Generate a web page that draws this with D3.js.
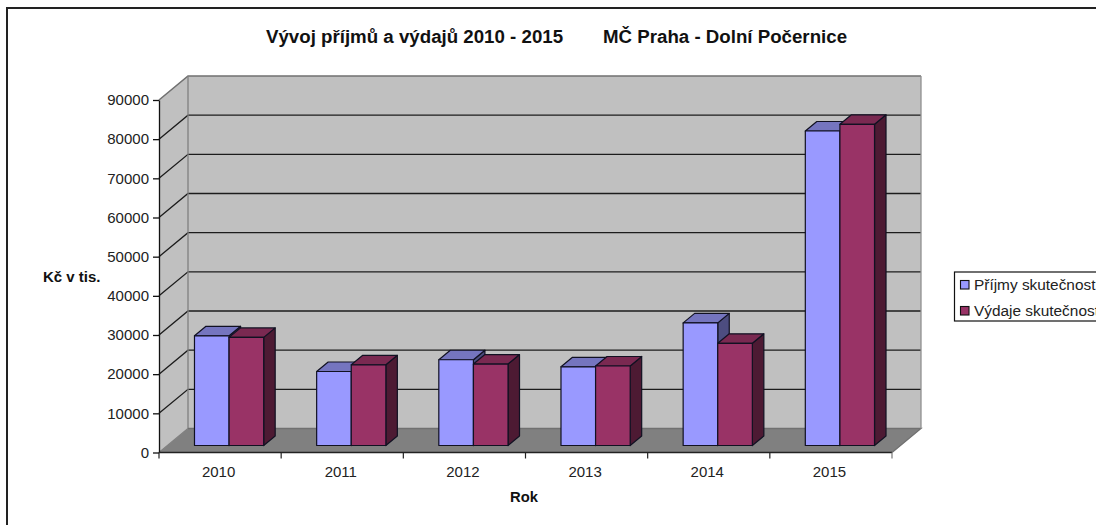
<!DOCTYPE html>
<html>
<head>
<meta charset="utf-8">
<script src="https://cdn.jsdelivr.net/npm/d3@7"></script>
<style>
html, body { margin: 0; padding: 0; background: #fff; overflow: hidden; }
svg { display: block; font-family: "Liberation Sans", Arial, sans-serif; }
</style>
</head>
<body>
<svg width="1096" height="525"></svg>
<script>
var years = ["2010", "2011", "2012", "2013", "2014", "2015"]
var prijmy = [28000, 18900, 21900, 20100, 31300, 80300]
var vydaje = [27600, 20600, 20800, 20300, 26100, 82000]
var yTicks = [0, 10000, 20000, 30000, 40000, 50000, 60000, 70000, 80000, 90000]
var seriesNames = ["Příjmy skutečnost", "Výdaje skutečnost"]
var seriesValues = [prijmy, vydaje]

var faceColors = [
    { front: "#9999ff", top: "#7575bf", side: "#4d4d80" },
    { front: "#993366", top: "#7a2951", side: "#4d1a33" }
]

var svg = d3.select("svg")
var line = "#1c1c1c"

// front edge of the 3d box
var x = d3.scaleBand().domain(years).range([159, 892])
var y = d3.scaleLinear().domain([0, 90000]).range([452.5, 100])

// how far the back wall and the bars are shifted from the front edge
var wallDx = 29, wallDy = -24
var barDx = 9, barDy = -7
var depthDx = 11.5, depthDy = -9.5
var barWidth = 34.6

function pts(list) {
    return list.map(function(p) { return p.join(",") }).join(" ")
}

// outer frame, only left and top fall inside the picture
svg.append("path")
    .attr("d", "M7,525V8H1096")
    .attr("fill", "none")
    .attr("stroke", "#222")
    .attr("stroke-width", 2)

// walls and floor
var xL = x.range()[0], xR = x.range()[1]
var yTop = y(90000), yZero = y(0)

svg.append("polygon")
    .attr("points", pts([[xL, yTop], [xL + wallDx, yTop + wallDy], [xL + wallDx, yZero + wallDy], [xL, yZero]]))
    .attr("fill", "#c0c0c0")
svg.append("polygon")
    .attr("points", pts([[xL + wallDx, yTop + wallDy], [xR + wallDx, yTop + wallDy], [xR + wallDx, yZero + wallDy], [xL + wallDx, yZero + wallDy]]))
    .attr("fill", "#c0c0c0")
svg.append("polygon")
    .attr("points", pts([[xL, yZero], [xL + wallDx, yZero + wallDy], [xR + wallDx, yZero + wallDy], [xR, yZero]]))
    .attr("fill", "#808080")

// gridlines
yTicks.slice(1).forEach(function(t) {
    var yy = y(t)
    var c = t == 90000 ? "#707070" : line
    svg.append("polyline")
        .attr("points", pts([[xL, yy], [xL + wallDx, yy + wallDy], [xR + wallDx, yy + wallDy]]))
        .attr("fill", "none")
        .attr("stroke", c)
        .attr("stroke-width", t == 90000 ? 1.6 : 1.3)
})

// wall edges
svg.append("polyline")
    .attr("points", pts([[xL + wallDx, yTop + wallDy], [xL + wallDx, yZero + wallDy], [xL, yZero]]))
    .attr("fill", "none").attr("stroke", "#808080").attr("stroke-width", 1.3)
svg.append("polyline")
    .attr("points", pts([[xL + wallDx, yZero + wallDy], [xR + wallDx, yZero + wallDy], [xR, yZero]]))
    .attr("fill", "none").attr("stroke", "#707070").attr("stroke-width", 1.3)
svg.append("line")
    .attr("x1", xR + wallDx).attr("x2", xR + wallDx)
    .attr("y1", yTop + wallDy).attr("y2", yZero + wallDy)
    .attr("stroke", "#909090").attr("stroke-width", 1.3)

// bars
var yBase = y(0) + barDy
years.forEach(function(year, i) {
    var centre = x(year) + x.bandwidth() / 2 + barDx
    seriesValues.forEach(function(values, s) {
        var x0 = centre - barWidth + s * barWidth
        var x1 = x0 + barWidth
        var yv = y(values[i]) + barDy
        var g = svg.append("g")
            .attr("stroke", "#111122")
            .attr("stroke-width", 1.2)
            .attr("stroke-linejoin", "round")
        g.append("polygon")
            .attr("points", pts([[x1, yv], [x1 + depthDx, yv + depthDy], [x1 + depthDx, yBase + depthDy], [x1, yBase]]))
            .attr("fill", faceColors[s].side)
        g.append("polygon")
            .attr("points", pts([[x0, yv], [x0 + depthDx, yv + depthDy], [x1 + depthDx, yv + depthDy], [x1, yv]]))
            .attr("fill", faceColors[s].top)
        g.append("rect")
            .attr("x", x0).attr("y", yv)
            .attr("width", barWidth).attr("height", yBase - yv)
            .attr("fill", faceColors[s].front)
    })
})

// axes
var yAxis = d3.axisLeft(y).tickValues(yTicks).tickSize(6).tickPadding(4).tickSizeOuter(0)
    .tickFormat(d3.format("d"))
var yg = svg.append("g").attr("transform", "translate(159,0)").call(yAxis)
yg.select(".domain").attr("stroke", "#111").attr("stroke-width", 1.3)
yg.selectAll(".tick line").attr("stroke", "#111").attr("stroke-width", 1.3)
yg.selectAll("text").attr("font-size", 15).attr("font-family", "Liberation Sans").attr("fill", "#222")

var xAxis = d3.axisBottom(x).tickSize(0).tickPadding(14)
var xg = svg.append("g").attr("transform", "translate(-1.5," + yZero + ")").call(xAxis)
xg.select(".domain").remove()
xg.selectAll("text").attr("font-size", 15).attr("font-family", "Liberation Sans").attr("fill", "#222")

svg.append("line")
    .attr("x1", xL).attr("x2", xR).attr("y1", yZero).attr("y2", yZero)
    .attr("stroke", "#222").attr("stroke-width", 1.3)
years.concat([null]).forEach(function(year, i) {
    var tx = xL + i * x.step()
    svg.append("line")
        .attr("x1", tx).attr("x2", tx).attr("y1", yZero).attr("y2", yZero + 6)
        .attr("stroke", i == years.length ? "#777" : "#222").attr("stroke-width", 1.2)
})

// titles
svg.append("text").attr("x", 266).attr("y", 43)
    .attr("font-size", 18.7).attr("font-weight", "bold").attr("fill", "#111")
    .text("Vývoj příjmů a výdajů 2010 - 2015")
svg.append("text").attr("x", 603).attr("y", 43)
    .attr("font-size", 18.7).attr("font-weight", "bold").attr("fill", "#111")
    .text("MČ Praha - Dolní Počernice")
svg.append("text").attr("x", 43).attr("y", 282)
    .attr("font-size", 15).attr("font-weight", "bold").attr("fill", "#111")
    .text("Kč v tis.")
svg.append("text").attr("x", 510).attr("y", 502)
    .attr("font-size", 14.8).attr("font-weight", "bold").attr("fill", "#111")
    .text("Rok")

// legend runs off the right edge like in the original
svg.append("rect")
    .attr("x", 954.5).attr("y", 272).attr("width", 160).attr("height", 49)
    .attr("fill", "#fff").attr("stroke", "#111").attr("stroke-width", 1.2)
seriesNames.forEach(function(name, s) {
    var ly = 285 + s * 26
    svg.append("rect")
        .attr("x", 960.5).attr("y", ly - 4.5).attr("width", 8.5).attr("height", 8.5)
        .attr("fill", faceColors[s].front).attr("stroke", "#111").attr("stroke-width", 1.1)
    svg.append("text")
        .attr("x", 974).attr("y", ly + 5)
        .attr("font-size", 15.4).attr("fill", "#222")
        .text(name)
})
</script>
</body>
</html>
